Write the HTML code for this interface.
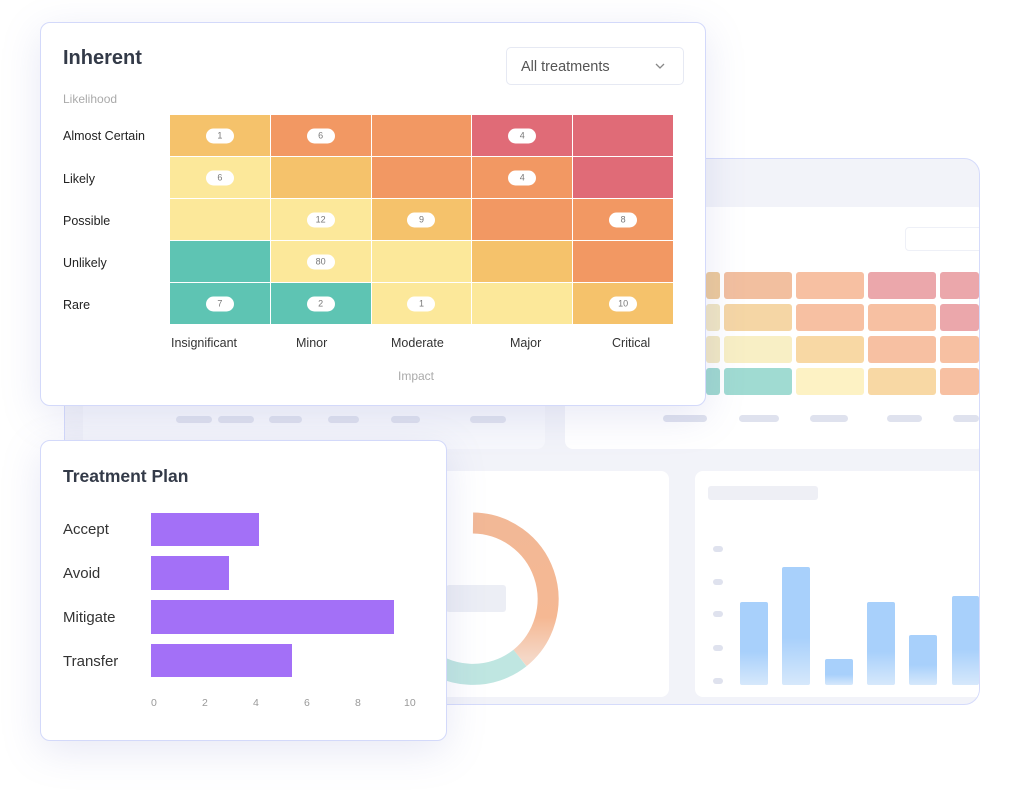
<!DOCTYPE html>
<html><head><meta charset="utf-8"><style>
*{margin:0;padding:0;box-sizing:border-box}
body{width:1024px;height:797px;background:#fff;position:relative;overflow:hidden;font-family:"Liberation Sans",sans-serif}
.a{position:absolute}
.card{position:absolute;background:#fff;border:1px solid #d3d9fa;border-radius:10px;box-shadow:0 10px 40px rgba(120,130,200,.18)}
.cell{position:absolute;border-right:1px solid #fff;border-bottom:1px solid #fff}
.pill{position:absolute;left:50%;top:50%;transform:translate(-50%,-50%);background:#fff;border-radius:8px;width:28px;height:15px;font-size:9px;color:#777;text-align:center;line-height:15px}
.lab{position:absolute;font-size:12.5px;color:#222}
.sk{position:absolute;background:#dfe2ee;border-radius:4px;height:7px}
.bc{position:absolute;border-radius:3px}
.bar{position:absolute;background:linear-gradient(#a8d0fb 60%,#d6e8fb);border-radius:2px}
</style></head><body>
<div class="a" style="left:64px;top:158px;width:916px;height:547px;background:#f2f3f9;border:1.5px solid #d5dbfb;border-radius:16px;overflow:hidden">
 <div class="a" style="left:18px;top:48px;width:462px;height:242px;background:#f7f8fc;border-radius:8px"></div>
 <div class="a" style="left:500px;top:48px;width:420px;height:242px;background:#fff;border-radius:8px"></div>
 <div class="a" style="left:840px;top:68px;width:80px;height:24px;border:1px solid #eef0f7;border-radius:4px"></div>
 <div class="a" style="left:350px;top:312px;width:254px;height:226px;background:#fff;border-radius:8px"></div>
 <div class="a" style="left:630px;top:312px;width:290px;height:226px;background:#fff;border-radius:8px"></div>
 <div class="a" style="left:643px;top:327px;width:110px;height:14px;background:#eeeff5;border-radius:3px"></div>
</div>
<!-- bg heatmap -->
<div class="bc" style="left:706px;top:272px;width:14px;height:27px;background:#ecc99a"></div>
<div class="bc" style="left:724px;top:272px;width:68px;height:27px;background:#f2bf9f"></div>
<div class="bc" style="left:796px;top:272px;width:68px;height:27px;background:#f7c0a2"></div>
<div class="bc" style="left:868px;top:272px;width:68px;height:27px;background:#eba7ab"></div>
<div class="bc" style="left:940px;top:272px;width:39px;height:27px;background:#eba7ab"></div>
<div class="bc" style="left:706px;top:304px;width:14px;height:27px;background:#f0e5c2"></div>
<div class="bc" style="left:724px;top:304px;width:68px;height:27px;background:#f5d6a5"></div>
<div class="bc" style="left:796px;top:304px;width:68px;height:27px;background:#f7c0a2"></div>
<div class="bc" style="left:868px;top:304px;width:68px;height:27px;background:#f7c0a2"></div>
<div class="bc" style="left:940px;top:304px;width:39px;height:27px;background:#eba7ab"></div>
<div class="bc" style="left:706px;top:336px;width:14px;height:27px;background:#f1e7c2"></div>
<div class="bc" style="left:724px;top:336px;width:68px;height:27px;background:#f8efc5"></div>
<div class="bc" style="left:796px;top:336px;width:68px;height:27px;background:#f8d8a4"></div>
<div class="bc" style="left:868px;top:336px;width:68px;height:27px;background:#f7c0a2"></div>
<div class="bc" style="left:940px;top:336px;width:39px;height:27px;background:#f7c0a2"></div>
<div class="bc" style="left:706px;top:368px;width:14px;height:27px;background:#9ed8cf"></div>
<div class="bc" style="left:724px;top:368px;width:68px;height:27px;background:#a0dbd2"></div>
<div class="bc" style="left:796px;top:368px;width:68px;height:27px;background:#fdf2c4"></div>
<div class="bc" style="left:868px;top:368px;width:68px;height:27px;background:#f8d8a4"></div>
<div class="bc" style="left:940px;top:368px;width:39px;height:27px;background:#f7c0a2"></div>
<div class="sk" style="left:663px;top:415px;width:44px"></div><div class="sk" style="left:739px;top:415px;width:40px"></div><div class="sk" style="left:810px;top:415px;width:38px"></div><div class="sk" style="left:887px;top:415px;width:35px"></div><div class="sk" style="left:953px;top:415px;width:26px"></div>
<div class="sk" style="left:176px;top:416px;width:36px"></div><div class="sk" style="left:218px;top:416px;width:36px"></div><div class="sk" style="left:269px;top:416px;width:33px"></div><div class="sk" style="left:328px;top:416px;width:31px"></div><div class="sk" style="left:391px;top:416px;width:29px"></div><div class="sk" style="left:470px;top:416px;width:36px"></div>
<!-- bg bars -->
<div class="sk" style="left:713px;top:546px;width:10px;height:6px"></div><div class="sk" style="left:713px;top:579px;width:10px;height:6px"></div><div class="sk" style="left:713px;top:611px;width:10px;height:6px"></div><div class="sk" style="left:713px;top:645px;width:10px;height:6px"></div><div class="sk" style="left:713px;top:678px;width:10px;height:6px"></div>
<div class="bar" style="left:740px;top:602px;width:28px;height:83px"></div>
<div class="bar" style="left:782px;top:567px;width:28px;height:118px"></div>
<div class="bar" style="left:825px;top:659px;width:28px;height:26px"></div>
<div class="bar" style="left:867px;top:602px;width:28px;height:83px"></div>
<div class="bar" style="left:909px;top:635px;width:28px;height:50px"></div>
<div class="bar" style="left:952px;top:596px;width:27px;height:89px"></div>
<!-- donut: center (473,599) -->
<svg class="a" style="left:380px;top:500px" width="200" height="200">
<defs><linearGradient id="g" x1="0" y1="0" x2="0" y2="1"><stop offset="0" stop-color="#f2b896"/><stop offset=".7" stop-color="#f5b893"/><stop offset="1" stop-color="#f5d7c6"/></linearGradient></defs>
<path d="M93 23 A76 76 0 0 1 140 158" fill="none" stroke="url(#g)" stroke-width="21"/>
<path d="M140 158 A76 76 0 0 1 40 153" fill="none" stroke="#bfe6e1" stroke-width="21"/>
<rect x="66" y="85" width="60" height="27" rx="3" fill="#eceef5"/>
</svg>
<!-- inherent card -->
<div class="card" style="left:40px;top:22px;width:666px;height:384px">
 <div class="a" style="left:22px;top:24px;font-size:20px;font-weight:bold;color:#333a48">Inherent</div>
 <div class="a" style="left:465px;top:24px;width:178px;height:38px;border:1px solid #e6e9f3;border-radius:5px;font-size:14.5px;color:#555;padding:11px 0 0 14px">All treatments<svg style="position:absolute;right:18px;top:15px" width="10" height="7"><path d="M1 1 L5 5 L9 1" fill="none" stroke="#888" stroke-width="1.3"/></svg></div>
 <div class="a" style="left:22px;top:69px;font-size:12px;color:#aaa">Likelihood</div>
 <div class="lab" style="left:22px;top:106px">Almost Certain</div>
 <div class="lab" style="left:22px;top:149px">Likely</div>
 <div class="lab" style="left:22px;top:191px">Possible</div>
 <div class="lab" style="left:22px;top:233px">Unlikely</div>
 <div class="lab" style="left:22px;top:275px">Rare</div>
 <div id="hm" class="a" style="left:129px;top:92px;width:504px;height:210px"></div>
 <div class="lab" style="left:130px;top:313px;color:#333">Insignificant</div>
 <div class="lab" style="left:255px;top:313px;color:#333">Minor</div>
 <div class="lab" style="left:350px;top:313px;color:#333">Moderate</div>
 <div class="lab" style="left:469px;top:313px;color:#333">Major</div>
 <div class="lab" style="left:571px;top:313px;color:#333">Critical</div>
 <div class="a" style="left:357px;top:346px;font-size:12px;color:#aaa">Impact</div>
</div>
<!-- treatment card -->
<div class="card" style="left:40px;top:440px;width:407px;height:301px">
 <div class="a" style="left:22px;top:25px;font-size:17.5px;font-weight:bold;color:#333a48">Treatment Plan</div>
 <div class="a" style="left:22px;top:80px;font-size:15px;color:#333">Accept</div>
 <div class="a" style="left:22px;top:124px;font-size:15px;color:#333">Avoid</div>
 <div class="a" style="left:22px;top:168px;font-size:15px;color:#333">Mitigate</div>
 <div class="a" style="left:22px;top:212px;font-size:15px;color:#333">Transfer</div>
 <div class="a" style="left:110px;top:72px;width:108px;height:33px;background:#a370f7"></div>
 <div class="a" style="left:110px;top:115px;width:78px;height:34px;background:#a370f7"></div>
 <div class="a" style="left:110px;top:159px;width:243px;height:34px;background:#a370f7"></div>
 <div class="a" style="left:110px;top:203px;width:141px;height:33px;background:#a370f7"></div>
 <div class="a" style="left:110px;top:256px;font-size:10.5px;color:#999">0</div>
 <div class="a" style="left:161px;top:256px;font-size:10.5px;color:#999">2</div>
 <div class="a" style="left:212px;top:256px;font-size:10.5px;color:#999">4</div>
 <div class="a" style="left:263px;top:256px;font-size:10.5px;color:#999">6</div>
 <div class="a" style="left:314px;top:256px;font-size:10.5px;color:#999">8</div>
 <div class="a" style="left:363px;top:256px;font-size:10.5px;color:#999">10</div>
</div>
<script>
var C={l:'#f5c26b',o:'#f29863',r:'#e06b77',y:'#fce89a',t:'#5ec4b3'};
var g=[['l1','o6','o','r4','r'],['y6','l','o','o4','r'],['y','y12','l9','o','o8'],['t','y80','y','l','o'],['t7','t2','y1','y','l10']];
var h='';
for(var r=0;r<5;r++)for(var c=0;c<5;c++){var s=g[r][c];var n=s.slice(1);
h+='<div class="cell" style="left:'+(c*100.8)+'px;top:'+(r*42)+'px;width:100.8px;height:42px;background:'+C[s[0]]+'">'+(n?'<div class="pill">'+n+'</div>':'')+'</div>';}
document.getElementById('hm').innerHTML=h;
</script>
</body></html>
